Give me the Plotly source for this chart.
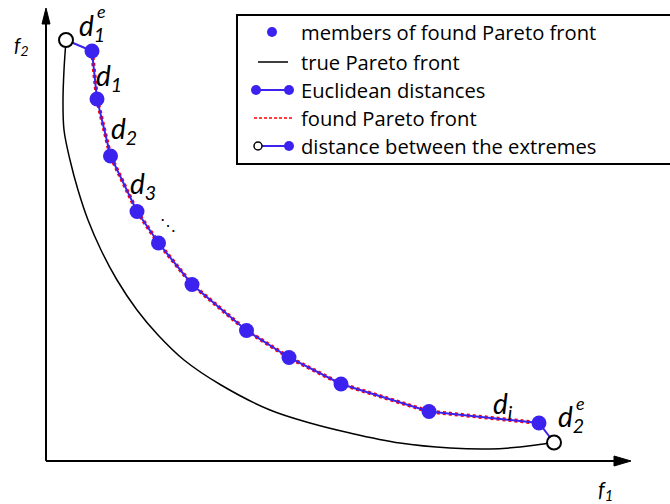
import plotly.graph_objects as go

# Members of the found Pareto front (objective space f1, f2)
found_f1 = [4.6, 5.1, 6.45, 9.1, 11.25, 14.6, 20.05, 24.3, 29.5, 38.3, 49.3]
found_f2 = [41.0, 36.2, 30.5, 24.95, 21.8, 17.65, 13.05, 10.35, 7.7, 4.95, 3.8]

# Extreme solutions of the true Pareto front
extreme_f1 = [2.0, 50.8]
extreme_f2 = [42.1, 1.85]

# True Pareto front
true_f1 = [2.0, 1.8, 1.7, 1.8, 2.4, 3.2, 4.2, 5.5, 7.1, 9.1, 11.2, 13.8, 17.5,
           22.4, 26.4, 30.4, 35.4, 40.4, 44.4, 47.4, 50.8]
true_f2 = [42.1, 39.1, 36.1, 33.1, 30.1, 27.1, 24.1, 21.1, 18.1, 15.1, 12.6,
           10.1, 7.6, 5.1, 3.8, 2.8, 1.8, 1.3, 1.2, 1.4, 1.85]

# Legend entries
legend_labels = ["members of found Pareto front", "true Pareto front",
                 "Euclidean distances", "found Pareto front",
                 "distance between the extremes"]

W, H = 670, 504
BLUE = "#3c22ef"
RED = "#ff0000"
FONT = "Open Sans"
LABEL_FONT = "Lato"


def px(x):
    return x / W


def py(y):
    return 1 - y / H


fig = go.Figure()

# true front
fig.add_trace(go.Scatter(x=true_f1, y=true_f2, mode="lines",
                         line=dict(color="black", width=1.5, shape="spline", smoothing=1.0),
                         hoverinfo="skip"))
# found front (dashed)
fig.add_trace(go.Scatter(x=found_f1, y=found_f2, mode="lines",
                         line=dict(color=RED, width=4, dash="3px,3px"),
                         hoverinfo="skip"))
# Euclidean distances between consecutive solutions, extremes included
chain_f1 = [extreme_f1[0]] + found_f1 + [extreme_f1[1]]
chain_f2 = [extreme_f2[0]] + found_f2 + [extreme_f2[1]]
fig.add_trace(go.Scatter(x=chain_f1, y=chain_f2, mode="lines",
                         line=dict(color=BLUE, width=2), hoverinfo="skip"))
# found members
fig.add_trace(go.Scatter(x=found_f1, y=found_f2, mode="markers",
                         marker=dict(color=BLUE, size=15, line=dict(width=0)),
                         hoverinfo="skip"))
# extremes
fig.add_trace(go.Scatter(x=extreme_f1, y=extreme_f2, mode="markers",
                         marker=dict(color="white", size=14,
                                     line=dict(color="black", width=2)),
                         hoverinfo="skip"))

shapes = []
# axes with arrow heads
shapes.append(dict(type="line", xref="x", yref="y", x0=0, y0=0, x1=57.0, y1=0,
                   line=dict(color="black", width=2)))
shapes.append(dict(type="path", xref="x", yref="y",
                   path="M 58.5,0 L 56.8,0.5 L 56.8,-0.5 Z",
                   fillcolor="black", line=dict(color="black", width=1)))
shapes.append(dict(type="line", xref="x", yref="y", x0=0, y0=0, x1=0, y1=44.0,
                   line=dict(color="black", width=2)))
shapes.append(dict(type="path", xref="x", yref="y",
                   path="M 0,45.3 L -0.4,43.7 L 0.4,43.7 Z",
                   fillcolor="black", line=dict(color="black", width=1)))

# legend box
shapes.append(dict(type="rect", xref="paper", yref="paper",
                   x0=px(237), x1=px(672), y0=py(164), y1=py(15),
                   line=dict(color="black", width=2), fillcolor="white", layer="below"))


def dot(cx, cy, r, fill, outline=None, lw=0):
    return dict(type="circle", xref="paper", yref="paper",
                x0=px(cx - r), x1=px(cx + r), y0=py(cy + r), y1=py(cy - r),
                fillcolor=fill,
                line=dict(color=outline if outline else fill, width=lw))


rows = [32, 62, 90, 118, 146]
# row 1: marker
shapes.append(dot(272, rows[0], 5, BLUE))
# row 2: black line
shapes.append(dict(type="line", xref="paper", yref="paper",
                   x0=px(258), x1=px(288), y0=py(rows[1]), y1=py(rows[1]),
                   line=dict(color="black", width=1.5)))
# row 3: blue line with end dots
shapes.append(dict(type="line", xref="paper", yref="paper",
                   x0=px(256), x1=px(289), y0=py(rows[2]), y1=py(rows[2]),
                   line=dict(color=BLUE, width=2)))
shapes.append(dot(256, rows[2], 5, BLUE))
shapes.append(dot(289, rows[2], 5, BLUE))
# row 4: red dashed line
shapes.append(dict(type="line", xref="paper", yref="paper",
                   x0=px(254), x1=px(293), y0=py(rows[3]), y1=py(rows[3]),
                   line=dict(color=RED, width=1.5, dash="3px,2px")))
# row 5: open circle joined to blue dot
shapes.append(dict(type="line", xref="paper", yref="paper",
                   x0=px(262), x1=px(289), y0=py(rows[4]), y1=py(rows[4]),
                   line=dict(color=BLUE, width=2)))
shapes.append(dot(258, rows[4], 4, "white", "black", 1.5))
shapes.append(dot(289, rows[4], 5, BLUE))

annotations = []
for label, ry in zip(legend_labels, rows):
    annotations.append(dict(xref="paper", yref="paper", x=px(299), y=py(ry),
                            text=label, showarrow=False, xanchor="left",
                            yanchor="middle",
                            font=dict(family=FONT, size=20.2, color="black")))


def lab(text, cx, cy, size):
    annotations.append(dict(xref="paper", yref="paper", x=px(cx), y=py(cy),
                            text=text, showarrow=False, xanchor="center",
                            yanchor="middle",
                            font=dict(family=LABEL_FONT, size=size, color="black")))


# distance labels
lab("<i>d<sub>1</sub></i>", 92, 27, 28)
lab("<i>e</i>", 101, 11, 18)
lab("<i>d<sub>1</sub></i>", 109, 77, 28)
lab("<i>d<sub>2</sub></i>", 124, 130, 28)
lab("<i>d<sub>3</sub></i>", 143, 185, 28)
lab("⋱", 168, 224, 16)
lab("<i>d<sub>i</sub></i>", 503, 405, 28)
lab("<i>d<sub>2</sub></i>", 571, 418, 28)
lab("<i>e</i>", 580, 403, 18)
# axis titles
lab("<i>f<sub>2</sub></i>", 21, 45, 20)
lab("<i>f<sub>1</sub></i>", 605, 490, 21)

fig.update_layout(
    width=W, height=H,
    margin=dict(l=0, r=0, t=0, b=0),
    paper_bgcolor="white", plot_bgcolor="white",
    showlegend=False,
    xaxis=dict(range=[-4.6, 62.4], visible=False, fixedrange=True),
    yaxis=dict(range=[-4.3, 46.1], visible=False, fixedrange=True),
    shapes=shapes,
    annotations=annotations,
)

fig.write_html("out.html")
